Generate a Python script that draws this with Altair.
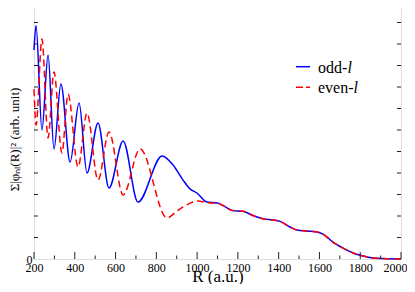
import altair as alt
import pandas as pd

# ---- data ----
odd_R = [200, 210, 239, 269, 298, 332, 377, 421, 460, 514, 568, 637, 710, 828, 882, 931, 965, 999, 1048]
odd_v = [9.72, 10.86, 6.00, 9.49, 5.12, 8.14, 4.51, 7.26, 4.00, 6.33, 3.30, 5.49, 2.65, 4.79, 4.37, 3.67, 3.26, 3.07, 2.65]

even_R = [200, 210, 239, 269, 298, 337, 367, 416, 460, 514, 568, 637, 720, 852, 901, 931, 980, 1004, 1048]
even_v = [7.90, 6.23, 10.23, 5.63, 8.70, 4.93, 7.67, 4.28, 6.79, 3.67, 5.91, 2.98, 5.12, 1.91, 2.23, 2.42, 2.65, 2.70, 2.62]

tail_R = [1100, 1130, 1176, 1225, 1274, 1323, 1372, 1406, 1456, 1490, 1539, 1588, 1617, 1666, 1716, 1765, 1814, 1863, 1912, 2000]
tail_v = [2.60, 2.47, 2.25, 2.22, 2.02, 1.87, 1.81, 1.75, 1.49, 1.35, 1.30, 1.26, 1.16, 0.79, 0.51, 0.28, 0.14, 0.05, 0.02, 0.0]

x_major = [200, 400, 600, 800, 1000, 1200, 1400, 1600, 1800, 2000]
x_minor = [300, 500, 700, 900, 1100, 1300, 1500, 1700, 1900]
y_ticks = [1, 2, 3, 4, 5, 6, 7, 8, 9, 10, 11]
y_labels = [0]

legend_names = ["odd-", "even-"]
legend_italic = "l"
x_title = "R (a.u.)"
y_title = "Σ|φₙₗ(R)|²  (arb. unit)"

W, H = 367, 258
FONT = "Liberation Serif"
FRAME = "#222222"

odd = pd.DataFrame({"R": odd_R + tail_R, "v": odd_v + tail_v})
even = pd.DataFrame({"R": even_R + tail_R, "v": even_v + tail_v})

xs = alt.Scale(domain=[200, 2000], nice=False, zero=False)
ys = alt.Scale(domain=[0, 12], nice=False)

xaxis = alt.Axis(values=x_major, ticks=False, grid=False, domain=False,
                 labelFont=FONT, labelFontSize=12, labelColor="black", labelPadding=3,
                 labelFlush=False, format="d", labelBound=False,
                 labelOffset={"condition": {"test": "datum.value === 2000", "value": -6}, "value": 0},
                 title=x_title, titleFont=FONT, titleFontSize=17, titleFontWeight="normal",
                 titleColor="black", titleX=W / 2, titleY=22, titleBaseline="alphabetic")
yaxis = alt.Axis(values=y_labels, ticks=False, grid=False, domain=False,
                 labelFont=FONT, labelFontSize=12, labelColor="black", labelPadding=2,
                 title=y_title, titleFont=FONT, titleFontSize=13, titleFontWeight="normal",
                 titleColor="black", titleX=-16, titleY=H / 2 + 9, titleAngle=270,
                 titleBaseline="alphabetic", titleAlign="center")

X = lambda f: alt.X(f, type="quantitative", scale=xs, axis=xaxis)
Y = lambda f: alt.Y(f, type="quantitative", scale=ys, axis=yaxis)

odd_line = alt.Chart(odd).mark_line(color="#0000ff", strokeWidth=1.5, interpolate="monotone").encode(
    x=X("R"), y=Y("v"))
even_line = alt.Chart(even).mark_line(color="#ff0000", strokeWidth=1.5, strokeDash=[7, 4],
                                      interpolate="monotone").encode(x=X("R"), y=Y("v"))

xt_major = pd.DataFrame({"t": x_major})
xt_minor = pd.DataFrame({"t": x_minor})
yt = pd.DataFrame({"t": y_ticks})

ticks = [
    alt.Chart(xt_major).mark_rule(color=FRAME, strokeWidth=1).encode(x=X("t"), y=alt.value(H), y2=alt.value(H - 7)),
    alt.Chart(xt_major).mark_rule(color=FRAME, strokeWidth=1).encode(x=X("t"), y=alt.value(0), y2=alt.value(7)),
    alt.Chart(xt_minor).mark_rule(color=FRAME, strokeWidth=1).encode(x=X("t"), y=alt.value(H), y2=alt.value(H - 3.5)),
    alt.Chart(xt_minor).mark_rule(color=FRAME, strokeWidth=1).encode(x=X("t"), y=alt.value(0), y2=alt.value(3.5)),
    alt.Chart(yt).mark_rule(color=FRAME, strokeWidth=1).encode(y=Y("t"), x=alt.value(0), x2=alt.value(4)),
    alt.Chart(yt).mark_rule(color=FRAME, strokeWidth=1).encode(y=Y("t"), x=alt.value(W), x2=alt.value(W - 4)),
]

one = pd.DataFrame({"a": [0]})
legend = [
    alt.Chart(one).mark_rule(color="#0000ff", strokeWidth=1.5).encode(
        x=alt.value(262), x2=alt.value(276), y=alt.value(65.7)),
    alt.Chart(one).mark_rule(color="#ff0000", strokeWidth=1.5, strokeDash=[7, 3]).encode(
        x=alt.value(262), x2=alt.value(276), y=alt.value(86.3)),
    alt.Chart(one).mark_text(text=legend_names[0], align="left", baseline="alphabetic", font=FONT,
                             fontSize=16, color="black").encode(x=alt.value(284), y=alt.value(71.7)),
    alt.Chart(one).mark_text(text=legend_italic, align="left", baseline="alphabetic", font=FONT,
                             fontSize=16, fontStyle="italic", color="black").encode(x=alt.value(313.5), y=alt.value(71.7)),
    alt.Chart(one).mark_text(text=legend_names[1], align="left", baseline="alphabetic", font=FONT,
                             fontSize=16, color="black").encode(x=alt.value(284), y=alt.value(92.3)),
    alt.Chart(one).mark_text(text=legend_italic, align="left", baseline="alphabetic", font=FONT,
                             fontSize=16, fontStyle="italic", color="black").encode(x=alt.value(319.5), y=alt.value(92.3)),
]

chart = alt.layer(odd_line, even_line, *ticks, *legend).properties(
    width=W, height=H,
    autosize=alt.AutoSizeParams(type="none"),
    padding={"left": 26, "top": -7, "right": 6, "bottom": 25},
).configure_view(stroke=FRAME, strokeWidth=1.5).configure(background="white")

chart.save("out.html", embed_options={"renderer": "svg", "actions": False})
